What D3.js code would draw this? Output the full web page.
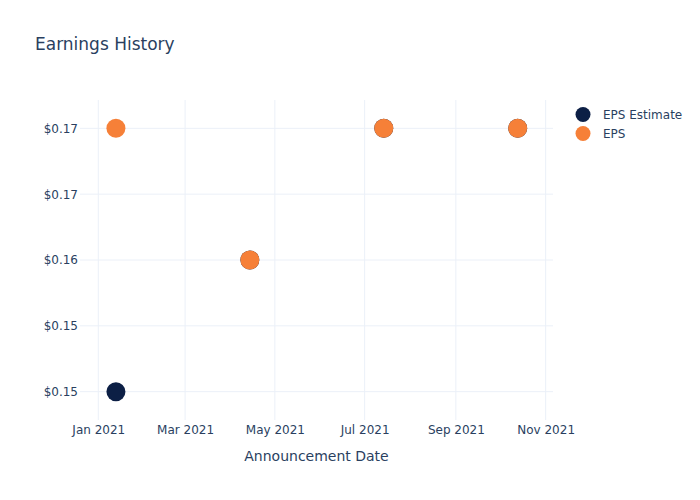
<!DOCTYPE html>
<html><head><meta charset="utf-8">
<script src="https://cdn.jsdelivr.net/npm/d3@7"></script>
<style>body{margin:0;background:#fff}svg{display:block}text{font-family:"DejaVu Sans",sans-serif;fill:#2a3f5f}</style>
</head><body>
<svg id="c" width="700" height="500"></svg>
<script>
const dates = ["2021-01-13","2021-04-14","2021-07-14","2021-10-13"];
const epsEstimate = [0.15, 0.16, 0.17, 0.17];
const eps = [0.17, 0.16, 0.17, 0.17];
const yTicks = [0.15, 0.155, 0.16, 0.165, 0.17];
const yTickLabels = ["$0.15","$0.15","$0.16","$0.17","$0.17"];
const xTicks = ["2021-01-01","2021-03-01","2021-05-01","2021-07-01","2021-09-01","2021-11-01"];
const xTickLabels = ["Jan 2021","Mar 2021","May 2021","Jul 2021","Sep 2021","Nov 2021"];
const seriesNames = ["EPS Estimate","EPS"];
const colors = ["#0c1f45","#f68038"];

const parse = d3.utcParse("%Y-%m-%d");
const svg = d3.select("#c");
const L=80, R=553, T=100, B=420;
const x = d3.scaleUtc().domain([parse("2020-12-19").getTime()+14*3600e3, parse("2021-11-06")]).range([L,R]);
const y = d3.scaleLinear().domain([0.14785,0.17215]).range([B,T]);

const g = svg.append("g");
g.selectAll("line.v").data(xTicks).join("line")
  .attr("x1",d=>x(parse(d))).attr("x2",d=>x(parse(d))).attr("y1",T).attr("y2",B)
  .attr("stroke","#ebf0f8").attr("stroke-width",1);
g.selectAll("line.h").data(yTicks).join("line")
  .attr("x1",L).attr("x2",R).attr("y1",d=>y(d)).attr("y2",d=>y(d))
  .attr("stroke","#ebf0f8").attr("stroke-width",1);

const xAxis = d3.axisBottom(x).tickValues(xTicks.map(parse)).tickSize(0).tickPadding(5)
  .tickFormat((d,i)=>xTickLabels[i]);
const xa = svg.append("g").attr("transform",`translate(0,${B})`).call(xAxis);
xa.select(".domain").remove();
xa.selectAll("text").attr("font-size",12).style("fill","#2a3f5f").attr("font-family","DejaVu Sans");

const yAxis = d3.axisLeft(y).tickValues(yTicks).tickSize(0).tickPadding(2)
  .tickFormat((d,i)=>yTickLabels[i]);
const ya = svg.append("g").attr("transform",`translate(${L},0)`).call(yAxis);
ya.select(".domain").remove();
ya.selectAll("text").attr("font-size",12).style("fill","#2a3f5f").attr("font-family","DejaVu Sans");

[epsEstimate, eps].forEach((vals,si)=>{
  svg.append("g").selectAll("circle").data(vals).join("circle")
    .attr("cx",(d,i)=>x(parse(dates[i]))).attr("cy",d=>y(d)).attr("r",9.5)
    .attr("fill",colors[si]);
});

svg.append("text").attr("x",35).attr("y",50).attr("font-size",17).text("Earnings History");
svg.append("text").attr("x",(L+R)/2).attr("y",461).attr("text-anchor","middle").attr("font-size",14).text("Announcement Date");

const lg = svg.append("g");
seriesNames.forEach((n,i)=>{
  lg.append("circle").attr("cx",583).attr("cy",114.5+i*19).attr("r",7.5).attr("fill",colors[i]);
  lg.append("text").attr("x",603).attr("y",118.5+i*19).attr("font-size",12).text(n);
});
</script>
</body></html>
